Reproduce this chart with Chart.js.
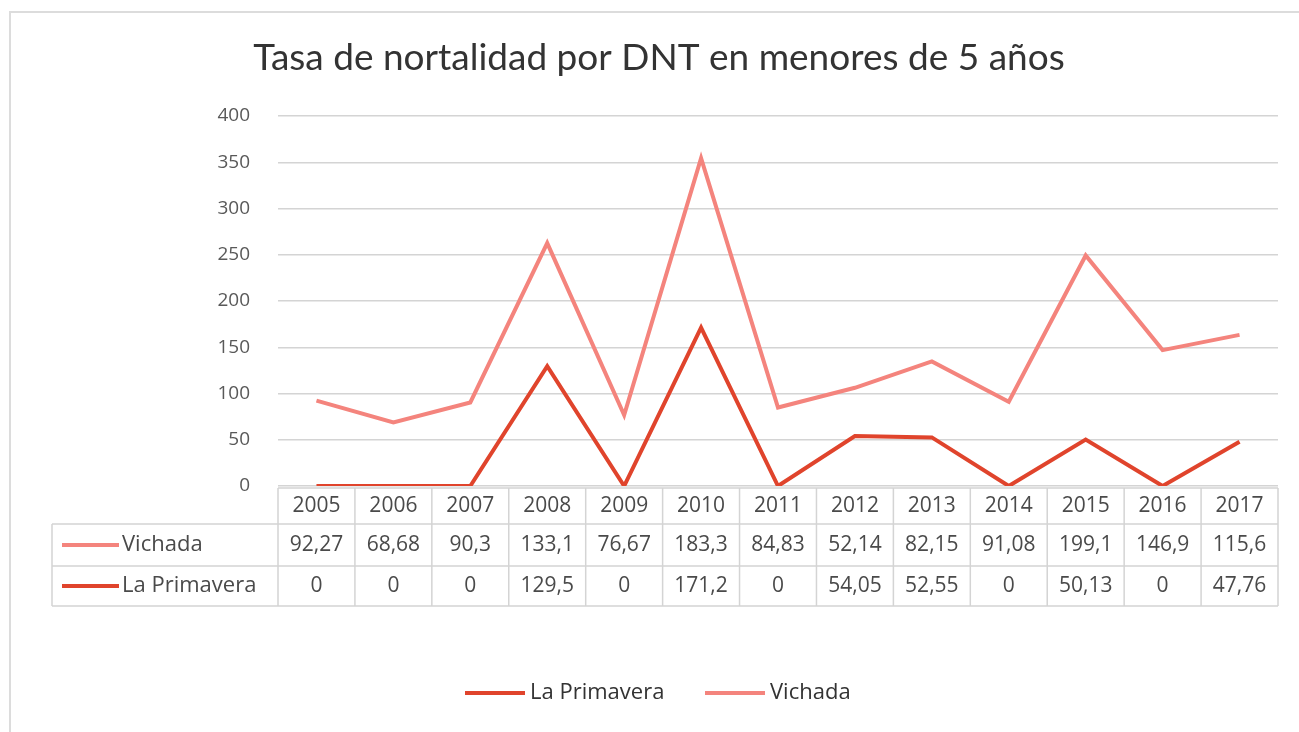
<!DOCTYPE html>
<html>
<head>
<meta charset="utf-8">
<script src="https://cdn.jsdelivr.net/npm/chart.js@4/dist/chart.umd.min.js"></script>
<style>
    html, body { margin: 0; padding: 0; background: #fff; }
    #wrap { width: 1299px; height: 732px; position: relative; }
</style>
</head>
<body>
<div id="wrap"><canvas id="grafTasa" width="1299" height="732"></canvas></div>
<script>
const anos = ['2005', '2006', '2007', '2008', '2009', '2010', '2011', '2012', '2013', '2014', '2015', '2016', '2017'];
const vichada = [92.27, 68.68, 90.3, 133.1, 76.67, 183.3, 84.83, 52.14, 82.15, 91.08, 199.1, 146.9, 115.6];
const laPrimavera = [0, 0, 0, 129.5, 0, 171.2, 0, 54.05, 52.55, 0, 50.13, 0, 47.76];
const ejeY = [0, 50, 100, 150, 200, 250, 300, 350, 400];

const titulo = 'Tasa de nortalidad por DNT en menores de 5 años';
const barvaVichada = '#f4847d';
const barvaPrimavera = '#e0442c';
const sedaMrizka = '#d4d4d4';
const textBarva = '#4a4a4a';

function formatCislo(v) {
    return String(v).replace('.', ',');
}

// tabulka pod grafem + legenda + titulek
const tabulkaPlugin = {
    id: 'tabulka',
    afterDraw(chart) {
        const ctx = chart.ctx;
        const area = chart.chartArea;
        const x = chart.scales.x;
        const n = anos.length;
        const sirka = (area.right - area.left) / n;
        const top = area.bottom + 2;
        const rHead = top + 36;
        const r1 = rHead + 42;
        const r2 = r1 + 40;
        const leftLabel = 52;

        ctx.save();

        // ramecek
        ctx.strokeStyle = '#dcdcdc';
        ctx.lineWidth = 2;
        ctx.beginPath();
        ctx.moveTo(10, 732);
        ctx.lineTo(10, 12);
        ctx.lineTo(1299, 12);
        ctx.stroke();

        // titulek
        ctx.fillStyle = '#333';
        ctx.font = '37px Lato';
        ctx.textAlign = 'center';
        ctx.textBaseline = 'middle';
        ctx.fillText(titulo, 659, 58);

        // mrizka tabulky
        ctx.strokeStyle = sedaMrizka;
        ctx.lineWidth = 1.5;
        ctx.beginPath();
        ctx.moveTo(area.left, top); ctx.lineTo(area.right, top);
        ctx.moveTo(leftLabel, rHead); ctx.lineTo(area.right, rHead);
        ctx.moveTo(leftLabel, r1); ctx.lineTo(area.right, r1);
        ctx.moveTo(leftLabel, r2); ctx.lineTo(area.right, r2);
        ctx.moveTo(leftLabel, rHead); ctx.lineTo(leftLabel, r2);
        for (let i = 0; i <= n; i++) {
            const cx = area.left + i * sirka;
            ctx.moveTo(cx, top); ctx.lineTo(cx, r2);
        }
        ctx.stroke();

        ctx.fillStyle = textBarva;
        ctx.font = '21px "Open Sans"';
        ctx.textAlign = 'center';
        ctx.textBaseline = 'middle';
        anos.forEach((a, i) => {
            const cx = x.getPixelForValue(i);
            ctx.fillText(a, cx, (top + rHead) / 2);
            ctx.fillText(formatCislo(vichada[i]), cx, (rHead + r1) / 2);
            ctx.fillText(formatCislo(laPrimavera[i]), cx, (r1 + r2) / 2);
        });

        // popisky radku
        const radky = [
            { label: 'Vichada', barva: barvaVichada, y: (rHead + r1) / 2 },
            { label: 'La Primavera', barva: barvaPrimavera, y: (r1 + r2) / 2 }
        ];
        ctx.textAlign = 'left';
        ctx.font = '22px "Open Sans"';
        radky.forEach(r => {
            ctx.strokeStyle = r.barva;
            ctx.lineWidth = 4;
            ctx.beginPath();
            ctx.moveTo(62, r.y); ctx.lineTo(119, r.y);
            ctx.stroke();
            ctx.fillStyle = textBarva;
            ctx.fillText(r.label, 122, r.y);
        });

        // legenda
        const legenda = [
            { label: 'La Primavera', barva: barvaPrimavera, x: 465 },
            { label: 'Vichada', barva: barvaVichada, x: 705 }
        ];
        ctx.font = '22px "Open Sans"';
        legenda.forEach(l => {
            ctx.strokeStyle = l.barva;
            ctx.lineWidth = 4;
            ctx.beginPath();
            ctx.moveTo(l.x, 693); ctx.lineTo(l.x + 60, 693);
            ctx.stroke();
            ctx.fillStyle = '#333';
            ctx.fillText(l.label, l.x + 65, 693);
        });

        ctx.restore();
    }
};

document.addEventListener('DOMContentLoaded', () => {
    const canvas = document.getElementById('grafTasa');
    new Chart(canvas, {
        type: 'line',
        data: {
            labels: anos,
            datasets: [{
                label: 'La Primavera',
                data: laPrimavera,
                borderColor: barvaPrimavera,
                backgroundColor: barvaPrimavera,
                borderWidth: 4,
                tension: 0,
                pointRadius: 0,
                fill: false,
            }, {
                label: 'Vichada',
                data: vichada,
                borderColor: barvaVichada,
                backgroundColor: barvaVichada,
                borderWidth: 4,
                tension: 0,
                pointRadius: 0,
                fill: false,
            }]
        },
        options: {
            responsive: false,
            animation: false,
            layout: {
                padding: { top: 116, bottom: 246, left: 0, right: 21 }
            },
            plugins: {
                legend: { display: false },
                title: { display: false },
                tooltip: { enabled: false }
            },
            scales: {
                x: {
                    display: false,
                    offset: true,
                    stacked: true
                },
                y: {
                    stacked: true,
                    min: 0,
                    max: 400,
                    afterBuildTicks(scale) {
                        scale.ticks = ejeY.map(v => ({ value: v }));
                    },
                    afterFit(scale) {
                        scale.width = 278;
                    },
                    border: { display: false },
                    grid: {
                        color: sedaMrizka,
                        lineWidth: 1.5,
                        drawTicks: false
                    },
                    ticks: {
                        padding: 28,
                        color: '#595959',
                        font: { family: 'Open Sans', size: 19 }
                    }
                }
            }
        },
        plugins: [tabulkaPlugin]
    });
});
</script>
</body>
</html>
